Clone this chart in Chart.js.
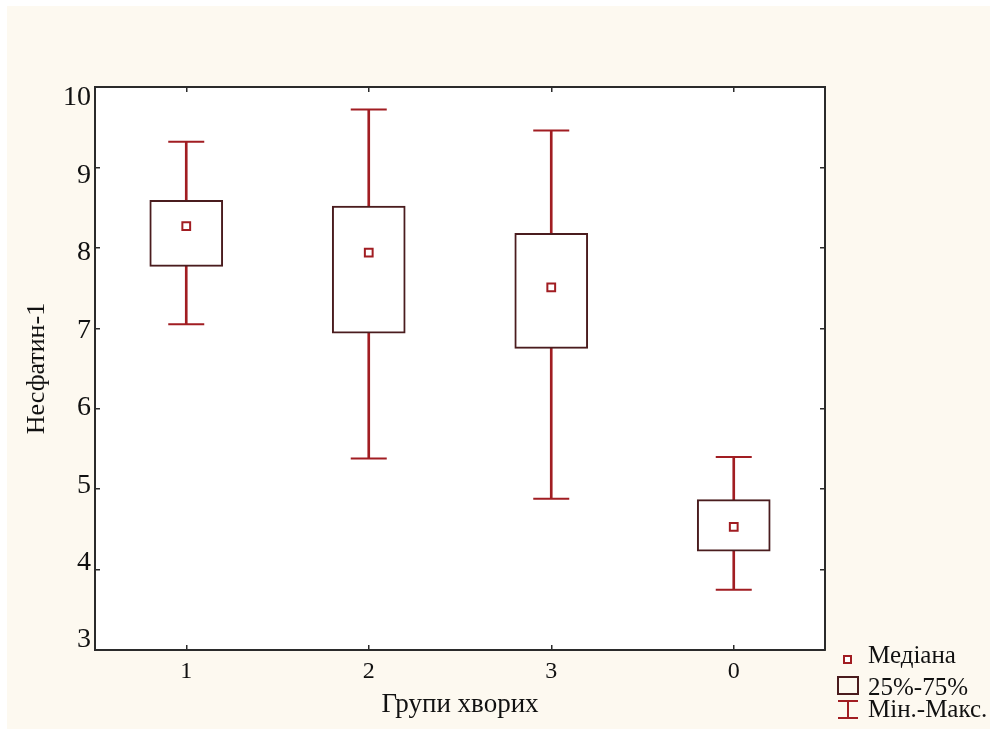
<!DOCTYPE html>
<html>
<head>
<meta charset="utf-8">
<script src="https://cdn.jsdelivr.net/npm/chart.js@4.4.1/dist/chart.umd.min.js"></script>
<style>
  html, body { margin: 0; padding: 0; background: #fff; }
  #wrap { position: relative; width: 990px; height: 729px; overflow: hidden; }
  #paper { position: absolute; left: 7px; top: 6px; right: 0; bottom: 0; background: #fdf9f0; }
  #c { position: absolute; left: 0; top: 0; }
</style>
</head>
<body>
<div id="wrap">
  <div id="paper"></div>
  <canvas id="c" width="990" height="729"></canvas>
</div>
<script>
// Box plot: Несфатин-1 по групах хворих (мін/25%/медіана/75%/макс)
const groups = ["1", "2", "3", "0"];
const minVals = [7.05, 5.38, 4.88, 3.75];
const q1Vals = [7.77, 6.94, 6.75, 4.23];
const medianVals = [8.27, 7.94, 7.51, 4.53];
const q3Vals = [8.59, 8.52, 8.18, 4.87];
const maxVals = [9.32, 9.72, 9.46, 5.40];

const yMin = 3;
const yMax = 10;
const yTickValues = [3, 4, 5, 6, 7, 8, 9, 10];
// у вихідному рисунку цифри осі Y стоять трохи не навпроти рисок,
// тому підписи несе окрема шкала з трохи ширшим діапазоном
const labelMin = 2.871;
const labelMax = 10.142;

const FONT = "Liberation Serif";
const RED = "#a11d22";
const BOX = "#4a1c1e";
const AXIS = "#2b2b2b";
const TEXT = "#111";

const fixedTicks = (scale) => {
  scale.ticks = yTickValues.map((v) => ({ value: v }));
};

const plotBackground = {
  id: "plotBackground",
  beforeDraw(chart) {
    const { ctx, chartArea: a } = chart;
    ctx.save();
    ctx.fillStyle = "#fff";
    ctx.fillRect(a.left, a.top, a.right - a.left, a.bottom - a.top);
    ctx.restore();
  },
};

// легенда як у Statistica: значок + підпис, праворуч від осі X
const boxLegend = {
  id: "boxLegend",
  afterDraw(chart) {
    const ctx = chart.ctx;
    ctx.save();
    ctx.lineWidth = 2;

    ctx.fillStyle = "#fff";
    ctx.strokeStyle = RED;
    ctx.fillRect(844, 656, 7, 7);
    ctx.strokeRect(844, 656, 7, 7);

    ctx.strokeStyle = BOX;
    ctx.strokeRect(838, 677, 20, 17);

    ctx.strokeStyle = RED;
    ctx.beginPath();
    ctx.moveTo(838, 701); ctx.lineTo(858, 701);
    ctx.moveTo(848, 701); ctx.lineTo(848, 718);
    ctx.moveTo(838, 718); ctx.lineTo(858, 718);
    ctx.stroke();

    ctx.fillStyle = TEXT;
    ctx.font = `25px "${FONT}"`;
    ctx.textBaseline = "alphabetic";
    ctx.textAlign = "left";
    ctx.fillText("Медіана", 868, 663);
    ctx.fillText("25%-75%", 868, 695);
    ctx.fillText("Мін.-Макс.", 868, 717);
    ctx.restore();
  },
};

new Chart(document.getElementById("c"), {
  type: "bar",
  data: {
    labels: groups,
    datasets: [
      {
        label: "25%-75%",
        data: groups.map((g, i) => [q1Vals[i], q3Vals[i]]),
        backgroundColor: "#fff",
        borderColor: BOX,
        borderWidth: 2,
        borderSkipped: false,
        barThickness: 73,
        grouped: false,
        order: 2,
      },
      {
        label: "Мін.-Макс.",
        data: groups.map((g, i) => [minVals[i], maxVals[i]]),
        backgroundColor: RED,
        borderWidth: 0,
        barThickness: 2,
        grouped: false,
        order: 3,
      },
      {
        type: "line",
        label: "Мін.",
        data: minVals,
        showLine: false,
        pointStyle: "line",
        pointRadius: 18,
        borderColor: RED,
        borderWidth: 2,
        order: 1,
      },
      {
        type: "line",
        label: "Макс.",
        data: maxVals,
        showLine: false,
        pointStyle: "line",
        pointRadius: 18,
        borderColor: RED,
        borderWidth: 2,
        order: 1,
      },
      {
        type: "line",
        label: "Медіана",
        data: medianVals,
        showLine: false,
        pointStyle: "rect",
        pointRadius: 5.5,
        backgroundColor: "#fff",
        borderColor: RED,
        borderWidth: 2,
        order: 0,
      },
    ],
  },
  options: {
    responsive: false,
    animation: false,
    events: [],
    layout: { padding: { top: 87, right: 165, bottom: 0, left: 0 } },
    plugins: { legend: { display: false }, tooltip: { enabled: false } },
    scales: {
      x: {
        type: "category",
        position: "bottom",
        offset: true,
        grid: { offset: false, drawOnChartArea: false, tickLength: -5, color: AXIS, lineWidth: 1.5 },
        border: { display: true, color: AXIS, width: 2 },
        ticks: { color: TEXT, font: { family: FONT, size: 24 }, padding: 12 },
        title: {
          display: true,
          text: "Групи хворих",
          color: TEXT,
          font: { family: FONT, size: 27 },
          padding: { top: 0, bottom: 8 },
        },
        afterFit: (s) => { s.height = 79; },
      },
      x2: {
        type: "category",
        labels: groups,
        position: "top",
        offset: true,
        grid: { offset: false, drawOnChartArea: false, tickLength: -5, color: AXIS, lineWidth: 1.5 },
        border: { display: true, color: AXIS, width: 2 },
        ticks: { display: false },
        afterFit: (s) => { s.height = 0; },
      },
      y: {
        type: "linear",
        position: "left",
        weight: 0,
        min: yMin,
        max: yMax,
        afterBuildTicks: fixedTicks,
        grid: { drawOnChartArea: false, tickLength: -5, color: AXIS, lineWidth: 1.5 },
        border: { display: true, color: AXIS, width: 2 },
        ticks: { display: false },
        afterFit: (s) => { s.width = 0; },
      },
      yLabels: {
        type: "linear",
        position: "left",
        weight: 1,
        min: labelMin,
        max: labelMax,
        afterBuildTicks: fixedTicks,
        grid: { display: false, drawTicks: false },
        border: { display: false },
        ticks: { color: TEXT, font: { family: FONT, size: 28 }, padding: 4 },
        title: {
          display: true,
          text: "Несфатин-1",
          color: TEXT,
          font: { family: FONT, size: 26 },
          padding: { top: 22, bottom: 0 },
        },
        afterFit: (s) => { s.width = 95; },
      },
      y2: {
        type: "linear",
        position: "right",
        min: yMin,
        max: yMax,
        afterBuildTicks: fixedTicks,
        grid: { drawOnChartArea: false, tickLength: -5, color: AXIS, lineWidth: 1.5 },
        border: { display: true, color: AXIS, width: 2 },
        ticks: { display: false },
        afterFit: (s) => { s.width = 0; },
      },
    },
  },
  plugins: [plotBackground, boxLegend],
});
</script>
</body>
</html>
